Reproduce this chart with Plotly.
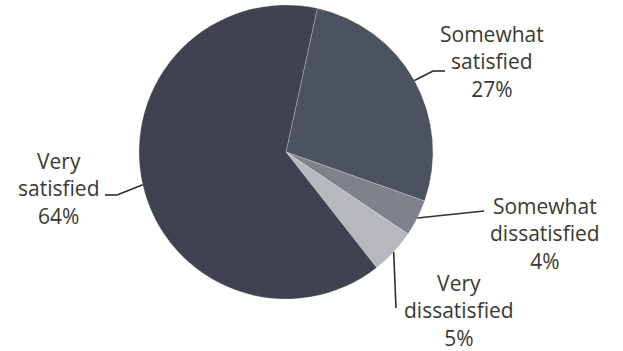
import math
import plotly.graph_objects as go

# Survey results, in drawing order (clockwise)
labels = ["Somewhat satisfied", "Somewhat dissatisfied", "Very dissatisfied", "Very satisfied"]
values = [27, 4, 5, 64]
colors = ["#4d5261", "#7f828c", "#b7b8bd", "#3f4350"]
label_lines = [
    ["Somewhat", "satisfied", "27%"],
    ["Somewhat", "dissatisfied", "4%"],
    ["Very", "dissatisfied", "5%"],
    ["Very", "satisfied", "64%"],
]

W, H = 623, 351
CX, CY, R = 286, 152, 147          # pie centre and radius in px
ROTATION = 12.3                    # start angle, degrees clockwise from top
TEXT_COLOR = "#3a3931"
FONT = "Open Sans"

# label anchor (centre of text block, px) and leader elbow points (px)
label_pos = [(492, 62), (545, 233), (459, 310), (58, 188)]
leader_elbows = [
    [(433, 71), (445, 71)],
    [(484, 211)],
    [(396, 308)],
    [(117, 195), (105, 195)],
]


def px_to_paper(x, y):
    return x / W, 1 - y / H


fig = go.Figure(
    go.Pie(
        labels=labels,
        values=values,
        sort=False,
        direction="clockwise",
        rotation=ROTATION,
        marker=dict(colors=colors, line=dict(color="rgba(255,255,255,0.45)", width=0.5)),
        textinfo="none",
        hoverinfo="label+percent",
        showlegend=False,
        domain=dict(
            x=[(CX - R) / W, (CX + R) / W],
            y=[(H - CY - R) / H, (H - CY + R) / H],
        ),
    )
)

# leader lines start at each slice's mid-angle on the rim
total = sum(values)
start = ROTATION
shapes = []
annotations = []
for i, v in enumerate(values):
    sweep = 360 * v / total
    mid = math.radians(start + sweep / 2)
    start += sweep
    ex = CX + R * math.sin(mid)
    ey = CY - R * math.cos(mid)
    pts = [(ex, ey)] + leader_elbows[i]
    for (x0, y0), (x1, y1) in zip(pts[:-1], pts[1:]):
        a0 = px_to_paper(x0, y0)
        a1 = px_to_paper(x1, y1)
        shapes.append(dict(
            type="line", xref="paper", yref="paper",
            x0=a0[0], y0=a0[1], x1=a1[0], y1=a1[1],
            line=dict(color="#2f2f27", width=1.6),
        ))
    lx, ly = px_to_paper(*label_pos[i])
    annotations.append(dict(
        x=lx, y=ly, xref="paper", yref="paper",
        text="<br>".join(label_lines[i]),
        showarrow=False, xanchor="center", yanchor="middle", align="center",
        font=dict(family=FONT, size=21, color=TEXT_COLOR),
    ))

fig.update_layout(
    width=W, height=H,
    margin=dict(l=0, r=0, t=0, b=0),
    paper_bgcolor="#ffffff",
    plot_bgcolor="#ffffff",
    shapes=shapes,
    annotations=annotations,
)

fig.write_html("out.html")
